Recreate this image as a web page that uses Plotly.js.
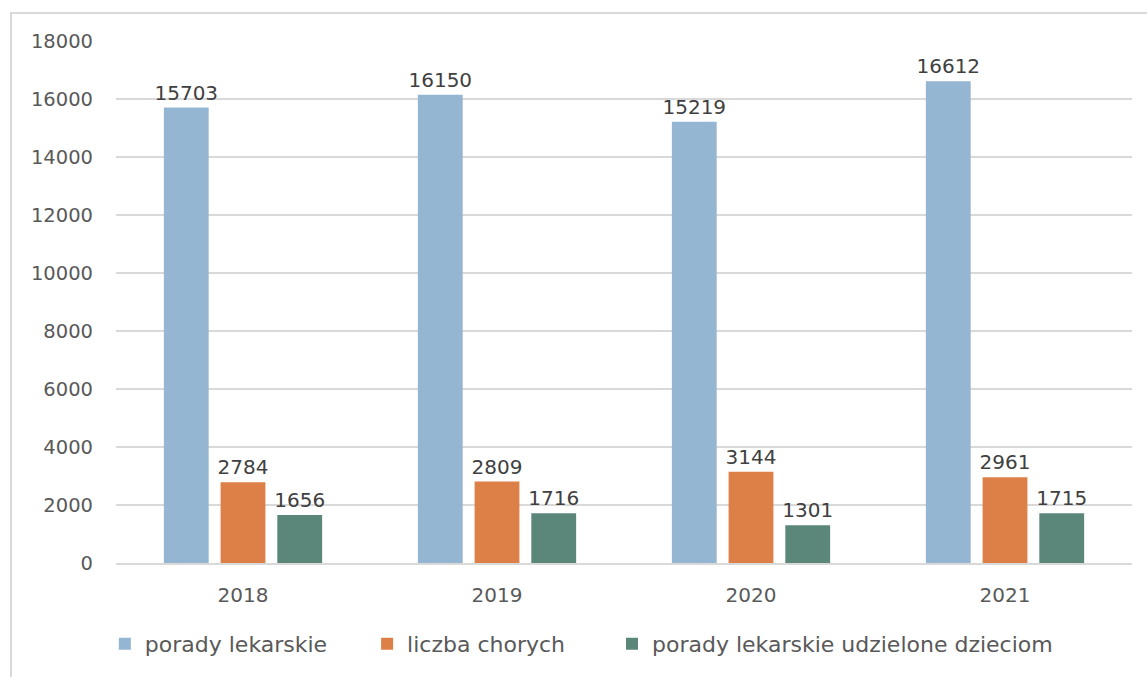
<!DOCTYPE html>
<html>
<head>
<meta charset="utf-8">
<script src="https://cdn.plot.ly/plotly-3.0.1.min.js"></script>
<style>
  html, body { margin: 0; padding: 0; background: #fff; }
  #frame { position: absolute; left: 10px; top: 12px; width: 1137px; height: 665px;
           border-left: 2px solid #d9d9d9; border-top: 2px solid #d9d9d9; }
  #chart { position: absolute; left: 0; top: 0; width: 1147px; height: 677px; }
</style>
</head>
<body>
<div id="frame"></div>
<div id="chart"></div>
<script>
const years = ['2018', '2019', '2020', '2021'];
const poradyLekarskie = [15703, 16150, 15219, 16612];
const liczbaChorych = [2784, 2809, 3144, 2961];
const poradyDzieciom = [1656, 1716, 1301, 1715];
const seriesNames = ['porady lekarskie', 'liczba chorych', 'porady lekarskie udzielone dzieciom'];
const colors = ['#94B6D2', '#DD8047', '#5A8779'];
const legendPad = ['\u00a0\u00a0\u00a0\u00a0\u00a0', '\u00a0\u00a0\u00a0\u00a0\u00a0\u00a0', ''];

const fam = 'DejaVu Sans, sans-serif';

const data = [poradyLekarskie, liczbaChorych, poradyDzieciom].map((vals, i) => ({
  type: 'bar',
  name: seriesNames[i] + legendPad[i],
  x: years,
  y: vals,
  marker: { color: colors[i] },
  text: vals.map(String),
  textposition: 'outside',
  constraintext: 'none',
  textfont: { family: fam, size: 20, color: '#404040' },
  cliponaxis: false,
  hoverinfo: 'skip'
}));

const layout = {
  width: 1147,
  height: 677,
  paper_bgcolor: 'rgba(0,0,0,0)',
  plot_bgcolor: 'rgba(0,0,0,0)',
  margin: { l: 116, r: 15, t: 41, b: 114 },
  barmode: 'group',
  bargap: 0.33,
  bargroupgap: 0.21,
  font: { family: fam, size: 19, color: '#595959' },
  showlegend: true,
  legend: {
    orientation: 'h',
    x: -0.011, xanchor: 'left',
    y: -0.115, yanchor: 'top',
    font: { family: fam, size: 22, color: '#595959' },
    traceorder: 'normal'
  },
  xaxis: {
    type: 'category',
    tickfont: { family: fam, size: 20, color: '#595959' },
    showgrid: false,
    showline: true,
    linecolor: '#d9d9d9',
    linewidth: 1.5,
    ticks: '',
    ticklabelstandoff: 13
  },
  yaxis: {
    range: [0, 18000],
    dtick: 2000,
    tick0: 0,
    tickformat: 'd',
    tickfont: { family: fam, size: 19.5, color: '#595959' },
    showgrid: true,
    gridcolor: '#d9d9d9',
    gridwidth: 1.5,
    zeroline: false,
    showline: false,
    ticks: '',
    ticklabelstandoff: 22
  }
};

Plotly.newPlot('chart', data, layout, { displayModeBar: false, staticPlot: true });
</script>
</body>
</html>
